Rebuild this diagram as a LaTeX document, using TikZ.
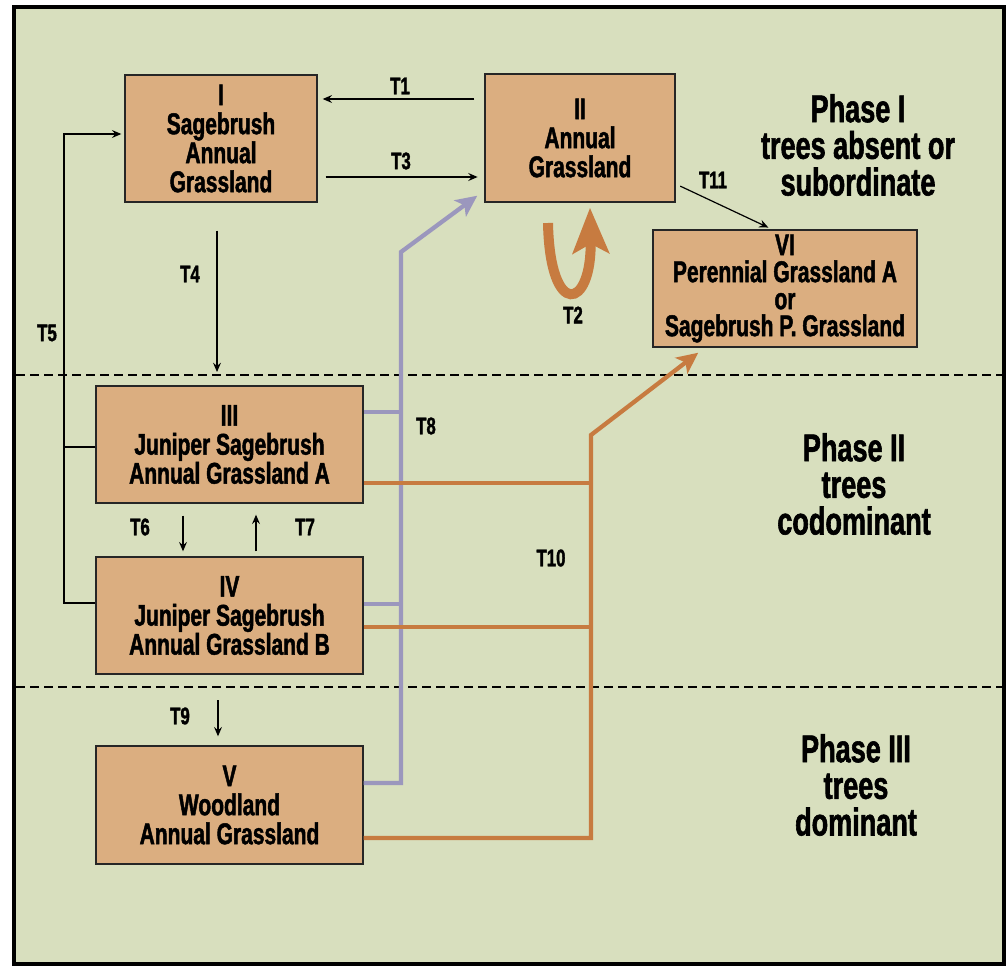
\documentclass[tikz,border=0pt]{standalone}
\usepackage{fontspec}
\newfontfamily\condfont{Liberation Sans}[FakeStretch=0.7, BoldFeatures={FakeBold=1.5}]
\usetikzlibrary{arrows.meta}
\definecolor{bggreen}{HTML}{D8DFBE}
\definecolor{boxtan}{HTML}{DBAE80}
\definecolor{lilac}{HTML}{9B97BD}
\definecolor{rust}{HTML}{C77B40}
\begin{document}
\begin{tikzpicture}[x=0.75pt, y=-0.75pt]
	\tikzset{bx/.style={draw=black!85, line width=1.1pt, fill=boxtan, align=center, inner sep=0pt, font=\condfont\bfseries\fontsize{22.5pt}{21.75pt}\selectfont}}
	\tikzset{tl/.style={inner sep=0pt, font=\condfont\bfseries\fontsize{18pt}{18pt}\selectfont}}
	\tikzset{ph/.style={align=center, inner sep=0pt, font=\condfont\bfseries\fontsize{29pt}{27.5pt}\selectfont}}
	\tikzset{ar/.style={line width=0.9pt, -{Stealth[length=7pt, width=6pt, inset=2.5pt]}}}
	\tikzset{pu/.style={lilac, line width=3.2pt, -{Stealth[length=16pt, width=15pt, inset=4pt]}}}
	\tikzset{og/.style={rust, line width=3.2pt, -{Stealth[length=16pt, width=15pt, inset=4pt]}}}
	\tikzset{sep/.style={line width=1.5pt, dash pattern=on 6.5pt off 4pt}}

	\useasboundingbox (0,0) rectangle (1008,966);
	\fill[white] (0,0) rectangle (1008,966);
	\draw[line width=3.5pt, fill=bggreen] (14,7) rectangle (1004,964);

	\draw[sep] (16,375) -- (1002,375);
	\draw[sep] (16,687) -- (1002,687);

	\node[bx, minimum width=144pt, minimum height=95.25pt] (s1) at (221,138.5) {I\\Sagebrush\\Annual\\Grassland};
	\node[bx, minimum width=142.5pt, minimum height=96pt] (s2) at (580,138) {II\\Annual\\Grassland};
	\node[bx, minimum width=200.25pt, minimum height=87.75pt] (s3) at (229.5,444.5) {III\\Juniper Sagebrush\\Annual Grassland A};
	\node[bx, minimum width=200.25pt, minimum height=87.75pt] (s4) at (229.5,615.5) {IV\\Juniper Sagebrush\\Annual Grassland B};
	\node[bx, minimum width=200.25pt, minimum height=88.5pt] (s5) at (229.5,805) {V\\Woodland\\Annual Grassland};
	\node[bx, minimum width=198pt, minimum height=87.75pt, font=\condfont\bfseries\fontsize{22.5pt}{20.25pt}\selectfont] (s6) at (785,288.5) {VI\\Perennial Grassland A\\or\\Sagebrush P. Grassland};

	\node[ph] (ph1) at (858,145) {Phase I\\trees absent or\\subordinate};
	\node[ph] (ph2) at (854,484) {Phase II\\trees\\codominant};
	\node[ph] (ph3) at (856,785) {Phase III\\trees\\dominant};

	\node[tl] (t1) at (400,86) {T1};
	\node[tl] (t2) at (573,315) {T2};
	\node[tl] (t3) at (401,161) {T3};
	\node[tl] (t4) at (190,274) {T4};
	\node[tl] (t5) at (47,333) {T5};
	\node[tl] (t6) at (140,527) {T6};
	\node[tl] (t7) at (305,527) {T7};
	\node[tl] (t8) at (426,426) {T8};
	\node[tl] (t9) at (180,716) {T9};
	\node[tl] (t10) at (551,558) {T10};
	\node[tl] (t11) at (713,180) {T11};

	\coordinate (d4) at (217,372);
	\coordinate (k5) at (64,134);
	\coordinate (d9) at (218,700);
	\coordinate (p8) at (401,252);
	\coordinate (p10) at (591,435);
	\coordinate (u0) at (548,223);

	\draw[ar, shorten <=7.5pt, shorten >=3.75pt] (s2.west |- 0,99) -- (s1.east |- 0,99);
	\draw[ar, shorten <=6pt, shorten >=5pt] (s1.east |- 0,177) -- (s2.west |- 0,177);
	\draw[ar, shorten <=21pt] (s1.south -| 217,0) -- (d4);
	\draw[ar, shorten >=2.25pt] (s4.west |- 0,603) -| (k5) -- (s1.west |- k5);
	\draw[line width=0.9pt] (s3.west |- 0,447) -- (k5 |- 0,447);
	\draw[ar, shorten <=9pt, shorten >=3.75pt] (s3.south -| 183,0) -- (s4.north -| 183,0);
	\draw[ar, shorten <=3.75pt, shorten >=8.25pt] (s4.north -| 256,0) -- (s3.south -| 256,0);
	\draw[ar, shorten >=6.75pt] (d9) -- (s5.north -| 218,0);
	\draw[ar, shorten <=3.75pt, shorten >=3pt] (s2.east |- 0,184) -- (s6.north -| 772,0);

	\draw[pu] (s5.east |- 0,783) -| (p8) -- ([shift={(-7,-7)}]s2.south west);
	\draw[lilac, line width=3.2pt] (s3.east |- 0,412) -- (p8 |- 0,412);
	\draw[lilac, line width=3.2pt] (s4.east |- 0,604) -- (p8 |- 0,604);

	\draw[og] (s5.east |- 0,838) -| (p10) -- ([shift={(46,5)}]s6.south west);
	\draw[rust, line width=3.2pt] (s3.east |- 0,483) -- (p10 |- 0,483);
	\draw[rust, line width=3.2pt] (s4.east |- 0,627) -- (p10 |- 0,627);

	\draw[rust, line width=7.5pt, -{Stealth[length=34pt, width=27pt, inset=7pt]}] (u0) .. controls (550,320) and (592,310) .. ([shift={(10,5)}]s2.south);
\end{tikzpicture}
\end{document}
